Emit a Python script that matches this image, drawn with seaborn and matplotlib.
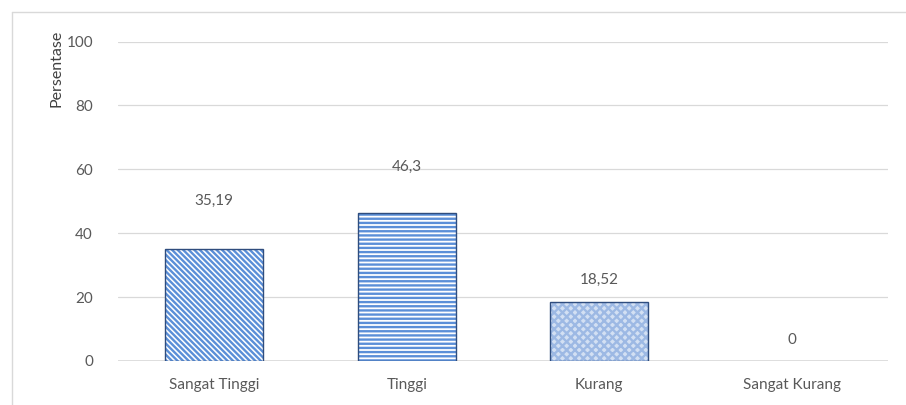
import matplotlib
matplotlib.use("Agg")
import matplotlib.pyplot as plt
import seaborn as sns
import pandas as pd
from matplotlib.lines import Line2D
from matplotlib.patches import Rectangle

# Category names and percentages
categories = ["Sangat Tinggi", "Tinggi", "Kurang", "Sangat Kurang"]
values = [35.19, 46.3, 18.52, 0]
value_labels = ["35,19", "46,3", "18,52", "0"]
y_ticks = [0, 20, 40, 60, 80, 100]

# Presentation settings
label_offsets_pt = [34, 33, 16, 15]
hatches = ["\\\\\\\\\\\\", "----", "xxxx", ""]
hatch_colors = ["#5b8fd8", "#5b8fd8", "#9db9e4", "#5b8fd8"]
face_colors = ["white", "white", "#d3e0f3", "white"]

sns.set_theme(style="white")
plt.rcParams["font.family"] = ["Lato", "DejaVu Sans"]
plt.rcParams["hatch.linewidth"] = 1.7

text_color = "#595959"
grid_color = "#d9d9d9"

fig = plt.figure(figsize=(9.06, 4.05), dpi=100)
ax = fig.add_axes([118 / 906, 1 - 361 / 405, 770 / 906, (361 - 41.5) / 405])

df = pd.DataFrame({"Kategori": categories, "Persentase": values})
sns.barplot(data=df, x="Kategori", y="Persentase", width=0.51, ax=ax,
            color="white", saturation=1)

for patch, h, hc, fc in zip(ax.patches, hatches, hatch_colors, face_colors):
    patch.set_facecolor(fc)
    patch.set_hatch(h)
    patch.set_edgecolor(hc)
    patch.set_linewidth(0)
    patch.set_zorder(2)
    if patch.get_height() > 0:
        # dark outline drawn over the hatched fill
        outline = Rectangle(patch.get_xy(), patch.get_width(), patch.get_height(),
                            fill=False, edgecolor="#2f4d7e", linewidth=1.0, zorder=3)
        ax.add_patch(outline)

for i, (v, lab, off) in enumerate(zip(values, value_labels, label_offsets_pt)):
    ax.annotate(lab, xy=(i, v), xytext=(0, off), textcoords="offset points",
                ha="center", va="center", fontsize=11, color=text_color)

ax.set_ylim(0, 100)
ax.set_xlim(-0.5, 3.5)
ax.set_yticks(y_ticks)
ax.set_yticklabels([str(t) for t in y_ticks])
ax.yaxis.grid(True, color=grid_color, linewidth=0.9)
ax.set_axisbelow(True)
for s in ax.spines.values():
    s.set_visible(False)
ax.axhline(0, color=grid_color, linewidth=1.2, zorder=1)
ax.tick_params(axis="y", length=0, pad=18, labelsize=11, labelcolor=text_color)
ax.tick_params(axis="x", length=0, pad=12, labelsize=11, labelcolor=text_color)
ax.set_xlabel("")
ax.set_ylabel("")

fig.text(56 / 906, 1 - 68 / 405, "Persentase", rotation=90, ha="center", va="center",
         fontsize=11.5, color="#404040")

# chart frame
fig.add_artist(Line2D([11.5 / 906, 11.5 / 906], [1 - 12 / 405, 0], color=grid_color,
                      linewidth=1.0, transform=fig.transFigure))
fig.add_artist(Line2D([11.5 / 906, 1], [1 - 12 / 405, 1 - 12 / 405], color=grid_color,
                      linewidth=1.0, transform=fig.transFigure))

fig.savefig("out.png", dpi=100, facecolor="white")
